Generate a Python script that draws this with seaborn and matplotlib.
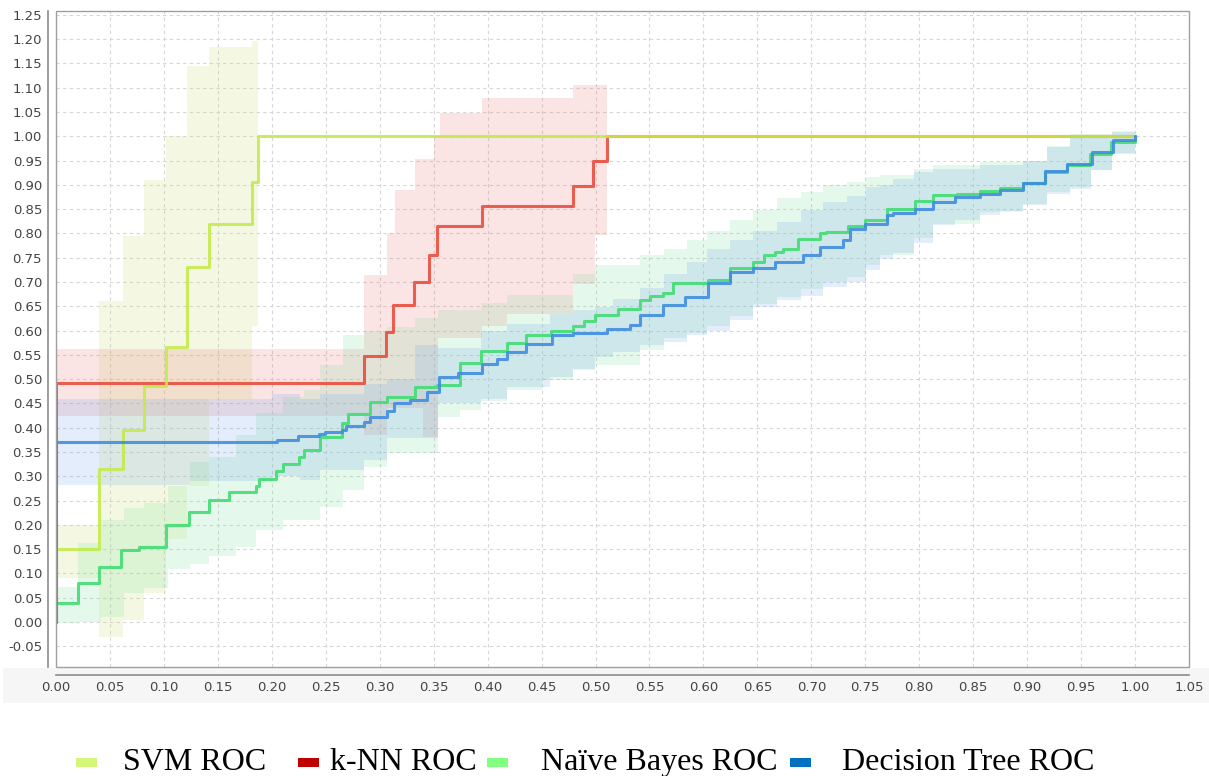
import matplotlib
matplotlib.use("Agg")
import matplotlib.pyplot as plt
from matplotlib.patches import Rectangle
import numpy as np
import pandas as pd
import seaborn as sns

# ---------------- data ----------------
svm_x = [0, 0, 0.040, 0.062, 0.082, 0.102, 0.121, 0.142, 0.182, 0.187, 1.0]
svm_y = [0, 0.15, 0.315, 0.395, 0.485, 0.567, 0.73, 0.82, 0.905, 1.0, 1.0]
svm_band_x = [0, 0.040, 0.062, 0.082, 0.102, 0.121, 0.142, 0.182, 0.187]
svm_band_hi = [0.20, 0.66, 0.795, 0.91, 1.0, 1.145, 1.183, 1.197, 1.197]
svm_band_lo = [0.09, -0.03, 0.005, 0.06, 0.17, 0.28, 0.46, 0.61, 0.61]

knn_x = [0, 0, 0.285, 0.306, 0.3125, 0.332, 0.346, 0.353, 0.395, 0.479, 0.498, 0.511, 1.0]
knn_y = [0, 0.493, 0.547, 0.597, 0.653, 0.70, 0.755, 0.816, 0.857, 0.897, 0.95, 1.0, 1.0]
knn_band_x = [0, 0.285, 0.307, 0.314, 0.333, 0.34, 0.35, 0.354, 0.356, 0.3945, 0.418, 0.479, 0.4995, 0.511]
knn_band_hi = [0.563, 0.714, 0.80, 0.889, 0.953, 0.953, 1.0, 1.0, 1.047, 1.078, 1.078, 1.105, 1.105, 1.105]
knn_band_lo = [0.425, 0.385, 0.44, 0.44, 0.44, 0.38, 0.38, 0.585, 0.585, 0.61, 0.635, 0.695, 0.796, 0.796]

nb_x = [0, 0, 0.020, 0.040, 0.060, 0.077, 0.102, 0.1236, 0.142, 0.1606, 0.185, 0.188, 0.204, 0.21,
        0.2255, 0.23, 0.245, 0.265, 0.271, 0.291, 0.307, 0.333, 0.353, 0.374, 0.394, 0.418, 0.436,
        0.459, 0.479, 0.489, 0.4995, 0.521, 0.541, 0.5505, 0.5628, 0.572, 0.6046, 0.6246, 0.646,
        0.656, 0.666, 0.674, 0.688, 0.708, 0.714, 0.734, 0.75, 0.77, 0.796, 0.813, 0.835, 0.856,
        0.875, 0.8965, 0.9166, 0.9367, 0.958, 0.978, 1.0]
nb_y = [0, 0.04, 0.08, 0.114, 0.148, 0.155, 0.20, 0.227, 0.252, 0.268, 0.28, 0.294, 0.31, 0.326,
        0.34, 0.355, 0.38, 0.409, 0.429, 0.453, 0.464, 0.484, 0.488, 0.533, 0.557, 0.574, 0.59,
        0.60, 0.609, 0.62, 0.632, 0.645, 0.663, 0.671, 0.678, 0.697, 0.704, 0.728, 0.741,
        0.755, 0.762, 0.769, 0.789, 0.80, 0.803, 0.815, 0.827, 0.851, 0.867, 0.879, 0.882, 0.888,
        0.894, 0.903, 0.927, 0.94, 0.964, 0.988, 1.0]
nb_band_x = [0, 0.02, 0.042, 0.063, 0.082, 0.1035, 0.124, 0.142, 0.167, 0.185, 0.21, 0.23, 0.245,
             0.266, 0.285, 0.307, 0.333, 0.354, 0.374, 0.394, 0.418, 0.45, 0.479, 0.4995, 0.541,
             0.563, 0.585, 0.603, 0.625, 0.646, 0.668, 0.69, 0.711, 0.733, 0.751, 0.764, 0.795,
             0.813, 0.856, 0.8965, 0.918, 0.94, 0.959, 0.979, 1.0]
nb_band_hi = [0.073, 0.163, 0.21, 0.234, 0.245, 0.28, 0.33, 0.34, 0.385, 0.43, 0.464, 0.477, 0.53,
              0.59, 0.60, 0.608, 0.625, 0.642, 0.642, 0.656, 0.673, 0.673, 0.717, 0.735, 0.755,
              0.769, 0.786, 0.806, 0.827, 0.848, 0.872, 0.885, 0.899, 0.906, 0.916, 0.92, 0.933,
              0.94, 0.947, 0.95, 0.981, 1.005, 1.005, 1.01, 1.01]
nb_band_lo = [-0.003, 0.0, 0.01, 0.06, 0.07, 0.11, 0.12, 0.135, 0.155, 0.19, 0.21, 0.21, 0.237,
              0.272, 0.32, 0.347, 0.347, 0.422, 0.436, 0.456, 0.477, 0.498, 0.518, 0.53, 0.56,
              0.585, 0.595, 0.61, 0.63, 0.655, 0.67, 0.685, 0.70, 0.71, 0.735, 0.755, 0.79,
              0.82, 0.845, 0.86, 0.885, 0.895, 0.93, 0.965, 0.965]

dt_x = [0, 0, 0.2045, 0.224, 0.244, 0.249, 0.265, 0.269, 0.285, 0.291, 0.307, 0.313, 0.3285,
        0.3436, 0.3545, 0.373, 0.3945, 0.4084, 0.4177, 0.436, 0.4594, 0.479, 0.5104, 0.532,
        0.541, 0.5628, 0.583, 0.6046, 0.6246, 0.646, 0.6664, 0.6926, 0.708, 0.7297, 0.736, 0.75,
        0.77, 0.776, 0.796, 0.813, 0.833, 0.856, 0.875, 0.8965, 0.9166, 0.9367, 0.96, 0.98, 1.0]
dt_y = [0, 0.371, 0.375, 0.383, 0.388, 0.391, 0.395, 0.403, 0.412, 0.422, 0.435, 0.45, 0.458,
        0.474, 0.505, 0.512, 0.531, 0.542, 0.556, 0.573, 0.59, 0.596, 0.604, 0.611,
        0.632, 0.652, 0.669, 0.697, 0.721, 0.728, 0.741, 0.755, 0.772, 0.786, 0.81, 0.82,
        0.837, 0.842, 0.851, 0.865, 0.875, 0.882, 0.889, 0.903, 0.929, 0.944, 0.968, 0.993, 1.0]
dt_band_x = [0, 0.124, 0.2, 0.226, 0.245, 0.285, 0.307, 0.333, 0.354, 0.394, 0.418, 0.458, 0.479,
             0.4995, 0.516, 0.541, 0.563, 0.585, 0.603, 0.625, 0.646, 0.668, 0.69, 0.711, 0.733,
             0.751, 0.764, 0.776, 0.795, 0.813, 0.833, 0.856, 0.875, 0.8965, 0.918, 0.94, 0.959,
             0.979, 1.0]
dt_band_hi = [0.46, 0.46, 0.47, 0.46, 0.47, 0.49, 0.50, 0.57, 0.565, 0.60, 0.614, 0.635, 0.642,
              0.649, 0.666, 0.687, 0.717, 0.741, 0.769, 0.786, 0.806, 0.824, 0.848, 0.864, 0.878,
              0.895, 0.899, 0.913, 0.927, 0.933, 0.933, 0.94, 0.94, 0.95, 0.978, 0.999, 0.999,
              1.009, 1.009]
dt_band_lo = [0.282, 0.29, 0.30, 0.292, 0.313, 0.333, 0.378, 0.378, 0.45, 0.46, 0.484, 0.505, 0.52,
              0.546, 0.555, 0.57, 0.577, 0.59, 0.60, 0.621, 0.649, 0.662, 0.672, 0.69, 0.70,
              0.724, 0.748, 0.76, 0.78, 0.817, 0.827, 0.837, 0.847, 0.858, 0.882, 0.892, 0.93,
              0.964, 0.964]

legend_labels = ["SVM ROC", "k-NN ROC", "Naïve Bayes ROC", "Decision Tree ROC"]
legend_colors = ["#d4f77a", "#c00000", "#80ff80", "#0070c0"]

x_ticks = [round(0.05 * i, 2) for i in range(22)]
y_ticks = [round(-0.05 + 0.05 * i, 2) for i in range(27)]
x_tick_labels = [f"{v:.2f}" for v in x_ticks]
y_tick_labels = [f"{v:.2f}" for v in y_ticks]

# ---------------- figure ----------------
sns.set_style("white")
plt.rcParams["font.family"] = ["DejaVu Sans"]

W, H = 1209, 776
fig = plt.figure(figsize=(W / 100, H / 100), dpi=100)
fig.patch.set_facecolor("white")

# light band behind the x tick labels
fig.patches.append(Rectangle((3 / W, 1 - 703 / H), 1206 / W, 35 / H,
                             transform=fig.transFigure, facecolor="#f6f6f6",
                             edgecolor="none", zorder=-1))

ax = fig.add_axes([56 / W, 1 - 667 / H, (1189 - 56) / W, (667 - 11) / H])
ax.set_facecolor("white")

bands = [
    (svm_band_x, svm_band_lo, svm_band_hi, "#ccdd6e"),
    (knn_band_x, knn_band_lo, knn_band_hi, "#ee7878"),
    (nb_band_x, nb_band_lo, nb_band_hi, "#80e0a0"),
    (dt_band_x, dt_band_lo, dt_band_hi, "#73a6eb"),
]
for bx, lo, hi, col in bands:
    ax.fill_between(bx, lo, hi, step="post", color=col, alpha=0.2, linewidth=0, zorder=1)

lines = [
    (knn_x, knn_y, "#e84a3a", "k-NN ROC"),
    (svm_x, svm_y, "#c4ea4a", "SVM ROC"),
    (nb_x, nb_y, "#3fdc70", "Naïve Bayes ROC"),
    (dt_x, dt_y, "#3d8be0", "Decision Tree ROC"),
]
for lx, ly, col, name in lines:
    df = pd.DataFrame({"fpr": lx, "tpr": ly})
    sns.lineplot(data=df, x="fpr", y="tpr", ax=ax, estimator=None, sort=False,
                 drawstyle="steps-post", color=col, linewidth=2.2, alpha=0.88,
                 zorder=3, legend=False)

ax.set_xlim(0, 1.05)
ax.set_ylim(-0.0926, 1.258)
ax.set_xticks(x_ticks)
ax.set_xticklabels(x_tick_labels)
ax.set_yticks(y_ticks)
ax.set_yticklabels(y_tick_labels)
ax.set_xlabel("")
ax.set_ylabel("")

ax.set_axisbelow(True)
ax.grid(True, linestyle=(0, (3, 3)), color="#d6d6d6", linewidth=0.8)

for s in ["top", "right"]:
    ax.spines[s].set_visible(False)
for s in ["left", "bottom"]:
    ax.spines[s].set_position(("outward", 6))
    ax.spines[s].set_color("#8c8c8c")
    ax.spines[s].set_linewidth(1.2)
ax.add_patch(Rectangle((0, 0), 1, 1, transform=ax.transAxes, fill=False,
                       edgecolor="#a0a0a0", linewidth=1.0, clip_on=False, zorder=5))

ax.tick_params(axis="both", which="major", length=2, color="#999999",
               labelsize=9.5, labelcolor="#444444", pad=2)

# ---------------- legend (below the plot) ----------------
marker_left = [76, 298, 487, 790]
text_left = [123, 330, 541, 842]
for lab, col, mx, tx in zip(legend_labels, legend_colors, marker_left, text_left):
    fig.patches.append(Rectangle((mx / W, 1 - 767 / H), 21 / W, 9 / H,
                                 transform=fig.transFigure, facecolor=col,
                                 edgecolor="none", zorder=3))
    fig.text(tx / W, 1 - 770 / H, lab, fontsize=23, family=["Liberation Serif", "DejaVu Serif"],
             color="black", ha="left", va="baseline")

fig.savefig("out.png", dpi=100)
